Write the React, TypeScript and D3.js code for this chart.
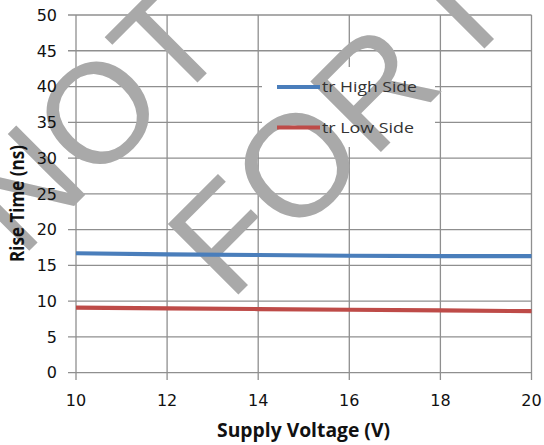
import React from "react";
import * as d3 from "d3";

const voltages = [10, 12, 14, 16, 18, 20];
const trHighSide = [16.7, 16.55, 16.45, 16.35, 16.3, 16.3];
const trLowSide = [9.1, 9.0, 8.9, 8.8, 8.7, 8.6];
const xTicks = [10, 12, 14, 16, 18, 20];
const yTicks = [0, 5, 10, 15, 20, 25, 30, 35, 40, 45, 50];
const seriesNames = ["tr High Side", "tr Low Side"];
const seriesColors = ["#4a7ebb", "#be4b48"];
const xTitle = "Supply Voltage (V)";
const yTitle = "Rise Time (ns)";
const watermark = ["NOT", "FOR I"];

const W = 544;
const H = 445;

export default function App() {
  const x = d3.scaleLinear().domain([10, 20]).range([76, 531.5]);
  const y = d3.scaleLinear().domain([0, 50]).range([372.7, 15]);
  const line = d3
    .line<number>()
    .x((_, i) => x(voltages[i]))
    .y((d) => y(d));
  const series = [trHighSide, trLowSide];
  const gridColor = "#8f8f8f";
  const tickFont = "'DejaVu Sans', sans-serif";

  return (
    <svg
      width={W}
      height={H}
      style={{ position: "absolute", left: 0, top: 0, background: "#fff" }}
    >
      <defs>
        <clipPath id="clipAll">
          <rect x={0} y={0} width={W} height={H} />
        </clipPath>
      </defs>
      <rect x={0} y={0} width={W} height={H} fill="#fff" />
      {/* grid */}
      {yTicks.map((t) => (
        <line
          key={"h" + t}
          x1={68}
          x2={x(20)}
          y1={y(t)}
          y2={y(t)}
          stroke={gridColor}
          strokeWidth={1.3}
        />
      ))}
      {xTicks.map((t) => (
        <line
          key={"v" + t}
          x1={x(t)}
          x2={x(t)}
          y1={y(50)}
          y2={380}
          stroke={gridColor}
          strokeWidth={1.3}
        />
      ))}
      {/* legend background */}
      <rect x={262} y={67} width={173} height={80} fill="#fff" />
      {/* watermark */}
      <g
        fill="#a9a9a9"
        fontFamily="'Liberation Sans', Arial, sans-serif"
        clipPath="url(#clipAll)"
        style={{ pointerEvents: "none" }}
      >
        <text x={21} y={259} fontSize={142} transform="rotate(-45 21 259)">
          {watermark[0]}
        </text>
        <text x={230} y={303} fontSize={145} transform="rotate(-45 230 303)">
          {watermark[1]}
        </text>
      </g>
      {/* series */}
      {series.map((s, i) => (
        <path
          key={"s" + i}
          d={line(s) || ""}
          fill="none"
          stroke={seriesColors[i]}
          strokeWidth={4.2}
          strokeLinecap="butt"
        />
      ))}
      {/* y tick labels */}
      {yTicks.map((t) => (
        <text
          key={"yl" + t}
          x={57}
          y={y(t)}
          dy="0.36em"
          textAnchor="end"
          fontFamily={tickFont}
          fontSize={16}
          fill="#111"
        >
          {t}
        </text>
      ))}
      {/* x tick labels */}
      {xTicks.map((t) => (
        <text
          key={"xl" + t}
          x={x(t)}
          y={406}
          textAnchor="middle"
          fontFamily={tickFont}
          fontSize={16}
          fill="#111"
        >
          {t}
        </text>
      ))}
      {/* axis titles */}
      <text
        x={303.5}
        y={437}
        textAnchor="middle"
        fontFamily="'Open Sans', sans-serif"
        fontWeight="bold"
        fontSize={19}
        textLength={173}
        lengthAdjust="spacingAndGlyphs"
        fill="#111"
      >
        {xTitle}
      </text>
      <text
        x={0}
        y={0}
        transform={`translate(24, ${203.5}) rotate(-90)`}
        textAnchor="middle"
        fontFamily="'Open Sans', sans-serif"
        fontWeight="bold"
        fontSize={19}
        textLength={117}
        lengthAdjust="spacingAndGlyphs"
        fill="#111"
      >
        {yTitle}
      </text>
      {/* legend */}
      {seriesNames.map((n, i) => {
        const ly = i === 0 ? 87 : 127.5;
        return (
          <g key={"lg" + i}>
            <line
              x1={277}
              x2={320}
              y1={ly}
              y2={ly}
              stroke={seriesColors[i]}
              strokeWidth={4.2}
            />
            <text
              x={322}
              y={ly}
              dy="0.35em"
              fontFamily="'Open Sans', sans-serif"
              fontSize={15}
              textLength={i === 0 ? 95 : 92}
              lengthAdjust="spacingAndGlyphs"
              fill="#333"
            >
              {n}
            </text>
          </g>
        );
      })}
    </svg>
  );
}
